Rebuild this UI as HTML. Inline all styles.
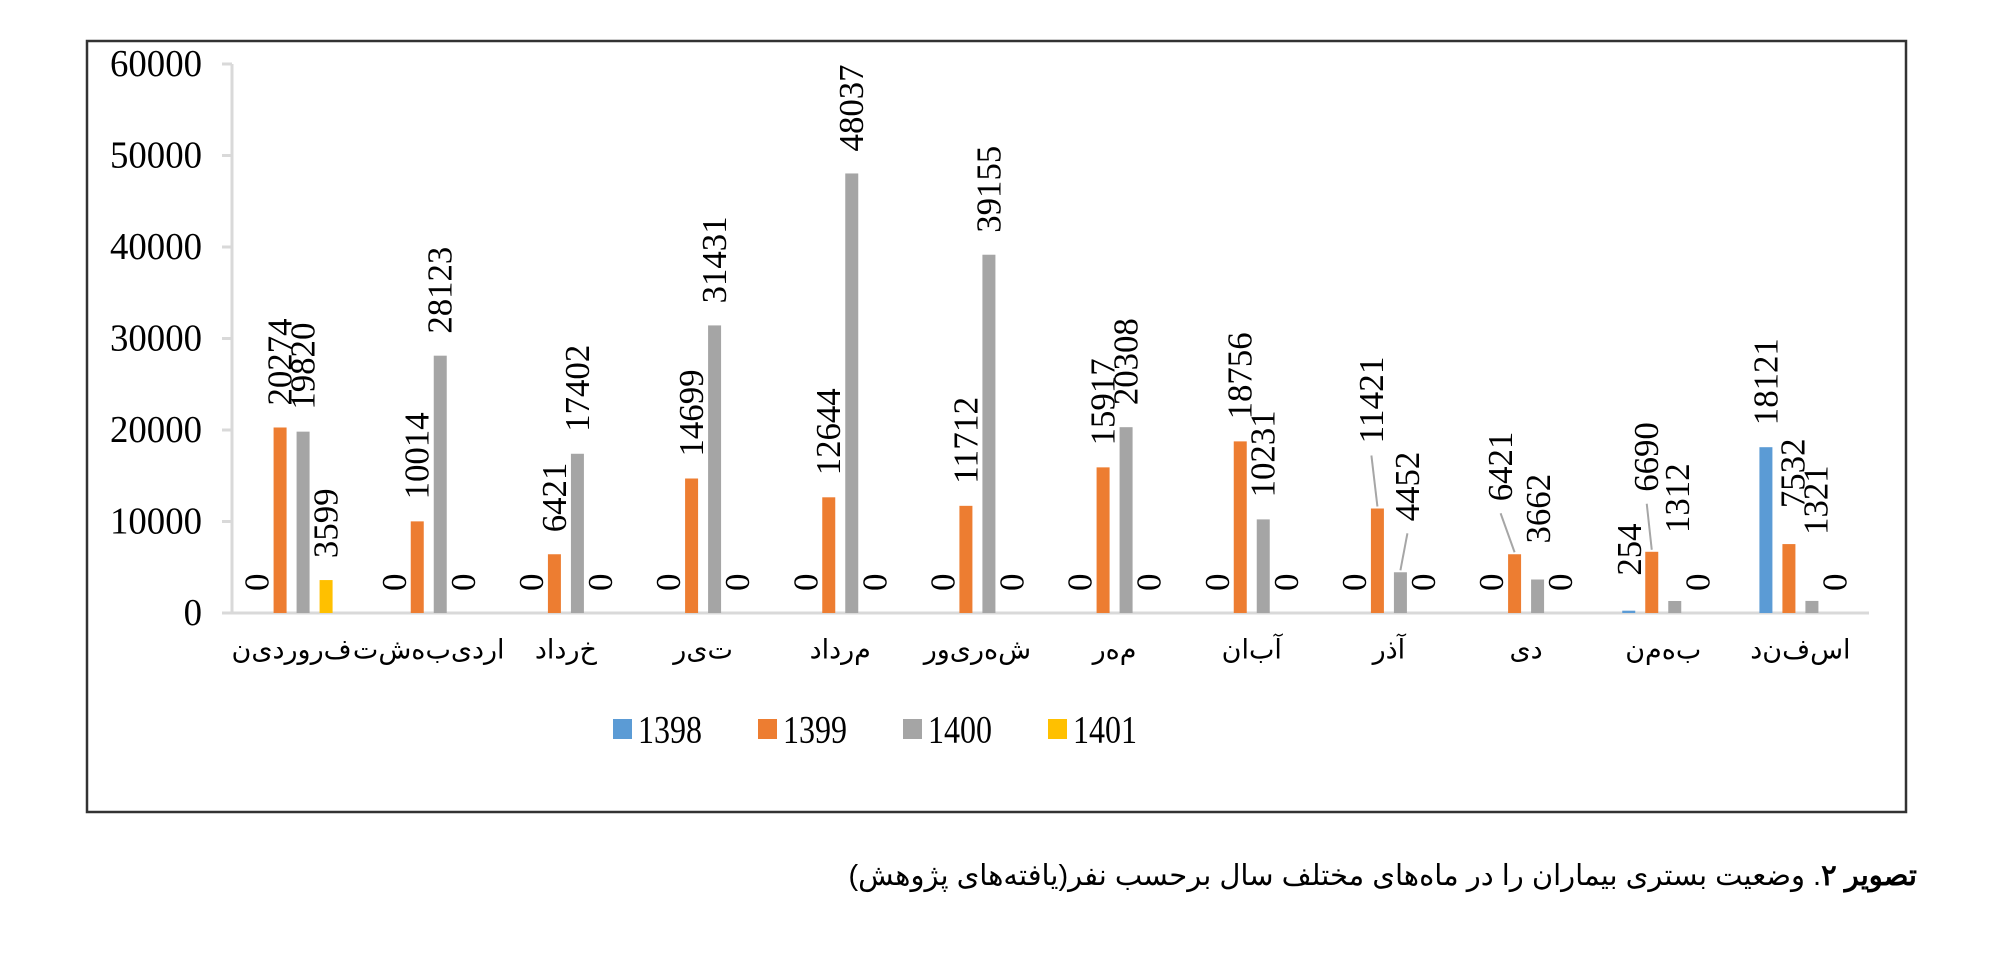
<!DOCTYPE html>
<html><head><meta charset="utf-8">
<style>
html,body{margin:0;padding:0;background:#fff;}
body{width:2000px;height:956px;overflow:hidden;position:relative;}
svg{position:absolute;left:0;top:0;}
.caption{position:absolute;right:83px;top:858px;direction:rtl;font-family:"Liberation Sans","Noto Sans CJK SC",sans-serif;font-size:29px;color:#000;white-space:nowrap;}
</style></head>
<body>
<svg id="chart" width="2000" height="956" xmlns="http://www.w3.org/2000/svg">
  <rect x="87" y="41" width="1819" height="771" fill="none" stroke="#333" stroke-width="2.5"/>
  <g id="axes"></g>
  <g id="bars"></g>
  <g id="labels"></g>
  <g id="legend"></g>
</svg>
<div class="caption"><b>تصویر ۲</b>. وضعیت بستری بیماران را در ماه‌های مختلف سال برحسب نفر(یافته‌های پژوهش)</div>
<script>
const months = ["فروردین","اردیبهشت","خرداد","تیر","مرداد","شهریور","مهر","آبان","آذر","دی","بهمن","اسفند"];
const seriesNames = ["1398","1399","1400","1401"];
const s1398 = [0,0,0,0,0,0,0,0,0,0,254,18121];
const s1399 = [20274,10014,6421,14699,12644,11712,15917,18756,11421,6421,6690,7532];
const s1400 = [19820,28123,17402,31431,48037,39155,20308,10231,4452,3662,1312,1321];
const s1401 = [3599,0,0,0,0,0,0,0,0,0,0,0];
const yTicks = [0,10000,20000,30000,40000,50000,60000];
const colors = ["#5b9bd5","#ed7d31","#a5a5a5","#ffc000"];
// label nudges [month][series] = [dx, dy, leader]
const nudges = {"8-1":[-6,-43,1],"8-2":[7,-29,1],"9-1":[-14,-31,1],"9-2":[1,-14,0],"10-0":[1,-13,0],"10-1":[-5,-38,1],"10-2":[3,-46,0],"10-3":[0,0,0],"11-1":[4,-14,0],"11-2":[4,-44,0]};

const NS="http://www.w3.org/2000/svg";
const X0=223, X1=1869, Y0=613, Y1=64, YMAX=60000;
const band=(X1-X0)/months.length;
const yS=v=>Y0-(v/YMAX)*(Y0-Y1);
const xC=i=>X0+band*(i+0.5);
const BW=13, STEP=23;
const xBar=(i,s)=>xC(i)+(s-1.5)*STEP;
function mk(tag,attrs,parent){const e=document.createElementNS(NS,tag);for(const k in attrs)e.setAttribute(k,attrs[k]);parent.appendChild(e);return e;}
const axes=document.getElementById('axes'),bars=document.getElementById('bars'),labels=document.getElementById('labels'),legend=document.getElementById('legend');

const yl=mk('line',{x1:232,x2:232,y1:yS(YMAX),y2:Y0,stroke:'#d9d9d9','stroke-width':3},axes);


yTicks.forEach(t=>{
  const tk=mk('line',{x1:222,x2:232,y1:yS(t),y2:yS(t),stroke:'#d9d9d9','stroke-width':3},axes);
  
  
  const s=String(t);
  const tx=mk('text',{x:202,y:yS(t),'text-anchor':'end','dominant-baseline':'central','font-family':'Liberation Serif, serif','font-size':38,fill:'#000',textLength:s.length*18.4,lengthAdjust:'spacingAndGlyphs'},axes);
  tx.textContent=s;
  
  
});
const xl=mk('line',{x1:X0,x2:X1,y1:Y0,y2:Y0,stroke:'#d9d9d9','stroke-width':3},axes);


months.forEach((m,i)=>{
  const tx=mk('text',{x:xC(i),y:650,'text-anchor':'middle','dominant-baseline':'central','font-family':'DejaVu Sans, sans-serif','font-size':27,'letter-spacing':'4',direction:'rtl',fill:'#000'},axes);
  tx.textContent=m.split('').join('\u200c');
  
  
});

const all=[s1398,s1399,s1400,s1401];
all.forEach((ser,s)=>{
  ser.forEach((v,i)=>{
    const x=xBar(i,s);
    if(v>0){
      const r=mk('rect',{x:x-BW/2,y:yS(v),width:BW,height:Y0-yS(v),fill:colors[s]},bars);
      
      
    }
    const n=nudges[i+'-'+s]||[0,0,0];
    const lx=x+n[0], ly=yS(v)-22+n[1];
    if(n[2]){
      const ln=mk('line',{x1:lx,y1:ly+12,x2:x,y2:yS(v)-2,stroke:'#a6a6a6','stroke-width':2},labels);
      
      
    }
    const str=String(v);
    const t=mk('text',{x:lx,y:ly,transform:`rotate(-90 ${lx} ${ly})`,'text-anchor':'start','dominant-baseline':'central','font-family':'Liberation Serif, serif','font-size':35,fill:'#000',textLength:str.length*17.4,lengthAdjust:'spacingAndGlyphs'},labels);
    t.textContent=str;
    
    
  });
});

seriesNames.forEach((nm,s)=>{
  const lx=613+s*145;
  const g=mk('g',{},legend);
  
  
  mk('rect',{x:lx,y:719,width:19,height:20,fill:colors[s]},g);
  const t=mk('text',{x:lx+25,y:730,'dominant-baseline':'central','font-family':'Liberation Serif, serif','font-size':39,fill:'#000',textLength:64,lengthAdjust:'spacingAndGlyphs'},g);
  t.textContent=nm;
});
</script>
</body></html>
